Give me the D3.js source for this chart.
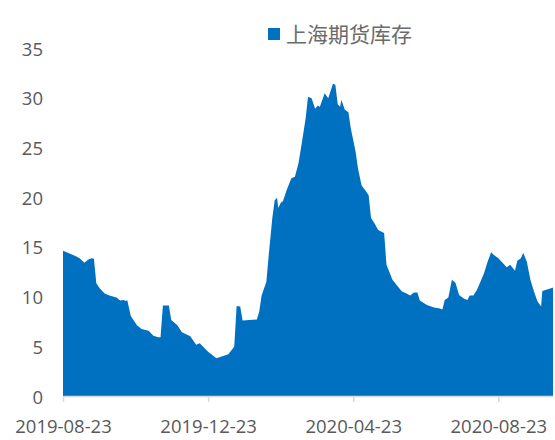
<!DOCTYPE html>
<html>
<head>
<meta charset="utf-8">
<script src="https://cdn.jsdelivr.net/npm/d3@7"></script>
<style>
  html, body { margin: 0; padding: 0; background: #fff; }
  svg { display: block; }
</style>
</head>
<body>
<div id="chart"></div>
<script>
const seriesName = "上海期货库存";
const dates = [
  "2019-08-23","2019-08-27","2019-09-02","2019-09-06","2019-09-10","2019-09-13","2019-09-16","2019-09-18",
  "2019-09-20","2019-09-23","2019-09-27","2019-10-01","2019-10-07","2019-10-10","2019-10-13","2019-10-15",
  "2019-10-16","2019-10-19","2019-10-24","2019-10-28","2019-11-03","2019-11-07","2019-11-11","2019-11-13",
  "2019-11-15","2019-11-20","2019-11-22","2019-11-27","2019-12-01","2019-12-08","2019-12-13","2019-12-16",
  "2019-12-23","2019-12-30","2020-01-04","2020-01-09","2020-01-13","2020-01-14","2020-01-16","2020-01-19",
  "2020-01-21","2020-02-02","2020-02-04","2020-02-06","2020-02-10","2020-02-12","2020-02-15","2020-02-17",
  "2020-02-19","2020-02-20","2020-02-22","2020-02-24","2020-02-27","2020-03-02","2020-03-05","2020-03-08",
  "2020-03-11","2020-03-14","2020-03-16","2020-03-19","2020-03-22","2020-03-24","2020-03-26","2020-03-30",
  "2020-04-02","2020-04-06","2020-04-08","2020-04-10","2020-04-12","2020-04-13","2020-04-16","2020-04-19",
  "2020-04-21","2020-04-25","2020-04-27","2020-04-30","2020-05-04","2020-05-06","2020-05-08","2020-05-11",
  "2020-05-14","2020-05-19","2020-05-21","2020-05-26","2020-05-30","2020-06-03","2020-06-06","2020-06-10",
  "2020-06-13","2020-06-16","2020-06-18","2020-06-24","2020-06-30","2020-07-05","2020-07-07","2020-07-09",
  "2020-07-12","2020-07-15","2020-07-18","2020-07-21","2020-07-25","2020-07-28","2020-07-30","2020-08-02",
  "2020-08-05","2020-08-08","2020-08-11","2020-08-14","2020-08-17","2020-08-19","2020-08-23","2020-08-27",
  "2020-08-30","2020-09-02","2020-09-06","2020-09-08","2020-09-11","2020-09-13","2020-09-16","2020-09-19",
  "2020-09-22","2020-09-25","2020-09-28","2020-09-29","2020-10-07","2020-10-08"
];
const values = [
  14.6,14.4,14.1,13.85,13.4,13.7,13.85,13.8,
  11.35,10.8,10.3,10.1,9.9,9.6,9.65,9.55,
  9.65,8.05,7.15,6.75,6.55,6.05,5.9,5.9,
  9.1,9.1,7.65,7.15,6.4,6.0,5.15,5.3,
  4.45,3.8,4.0,4.2,4.8,5.0,9.05,9.0,
  7.6,7.7,8.5,10.1,11.5,14.2,17.9,19.7,
  19.95,18.9,19.4,19.6,20.7,21.9,22.05,23.4,
  25.6,27.9,30.1,29.95,28.9,29.2,29.1,30.45,
  29.95,31.4,31.3,29.35,29.1,29.8,28.8,28.55,
  26.9,24.6,22.9,21.2,20.55,20.2,17.9,17.35,
  16.7,16.4,13.2,11.7,11.1,10.5,10.35,10.1,
  10.4,10.4,9.6,9.15,8.9,8.8,8.7,9.65,
  9.9,11.7,11.4,10.15,9.8,9.65,10.1,10.1,
  10.65,11.5,12.35,13.5,14.45,14.2,13.85,13.35,
  12.95,13.2,12.6,13.6,13.85,14.4,13.5,11.7,
  10.5,9.5,9.0,10.55,10.85,10.9
];
const xTickLabels = ["2019-08-23","2019-12-23","2020-04-23","2020-08-23"];
const yTicks = [0,5,10,15,20,25,30,35];

const W = 555, H = 440;
const parse = d3.utcParse("%Y-%m-%d");
const data = dates.map((d,i) => ({date: parse(d), value: values[i]}));

const svg = d3.select("#chart").append("svg").attr("width", W).attr("height", H);

const x = d3.scaleUtc()
  .domain([parse(dates[0]), parse(dates[dates.length-1])])
  .range([63, 553]);
const y = d3.scaleLinear().domain([0, 35]).range([396, 48]);

svg.append("path")
  .datum(data)
  .attr("fill", "#0070C0")
  .attr("d", d3.area().x(d => x(d.date)).y0(y(0)).y1(d => y(d.value)));

// x axis
const xAxis = d3.axisBottom(x)
  .tickValues(xTickLabels.map(parse))
  .tickFormat(d3.utcFormat("%Y-%m-%d"))
  .tickSizeInner(6).tickSizeOuter(0).tickPadding(17.5);
const gx = svg.append("g").attr("transform", `translate(0,${y(0)})`).call(xAxis);
gx.select(".domain").attr("stroke", "#d9d9d9").attr("stroke-width", 1.5);
gx.selectAll(".tick line").attr("stroke", "#d9d9d9").attr("stroke-width", 1.5);
gx.selectAll(".tick text")
  .attr("fill", "#595959")
  .style("font-family", "'Open Sans', 'Noto Sans', sans-serif")
  .style("font-size", "18.5px");

// y axis
const yAxis = d3.axisLeft(y).tickValues(yTicks).tickSize(0).tickPadding(20);
const gy = svg.append("g").attr("transform", "translate(63,0)").call(yAxis);
gy.select(".domain").remove();
gy.selectAll(".tick text")
  .attr("dy", "0.38em")
  .attr("fill", "#595959")
  .style("font-family", "'Open Sans', 'Noto Sans', sans-serif")
  .style("font-size", "18.5px");

// legend
const leg = svg.append("g").attr("transform", "translate(268,28)");
leg.append("rect").attr("width", 12).attr("height", 12).attr("fill", "#0070C0");
leg.append("text")
  .attr("x", 18).attr("y", 6).attr("dy", "0.36em")
  .attr("fill", "#6b6b6b")
  .style("font-family", "'Noto Sans CJK SC', sans-serif")
  .style("font-size", "21px")
  .text(seriesName);
</script>
</body>
</html>
